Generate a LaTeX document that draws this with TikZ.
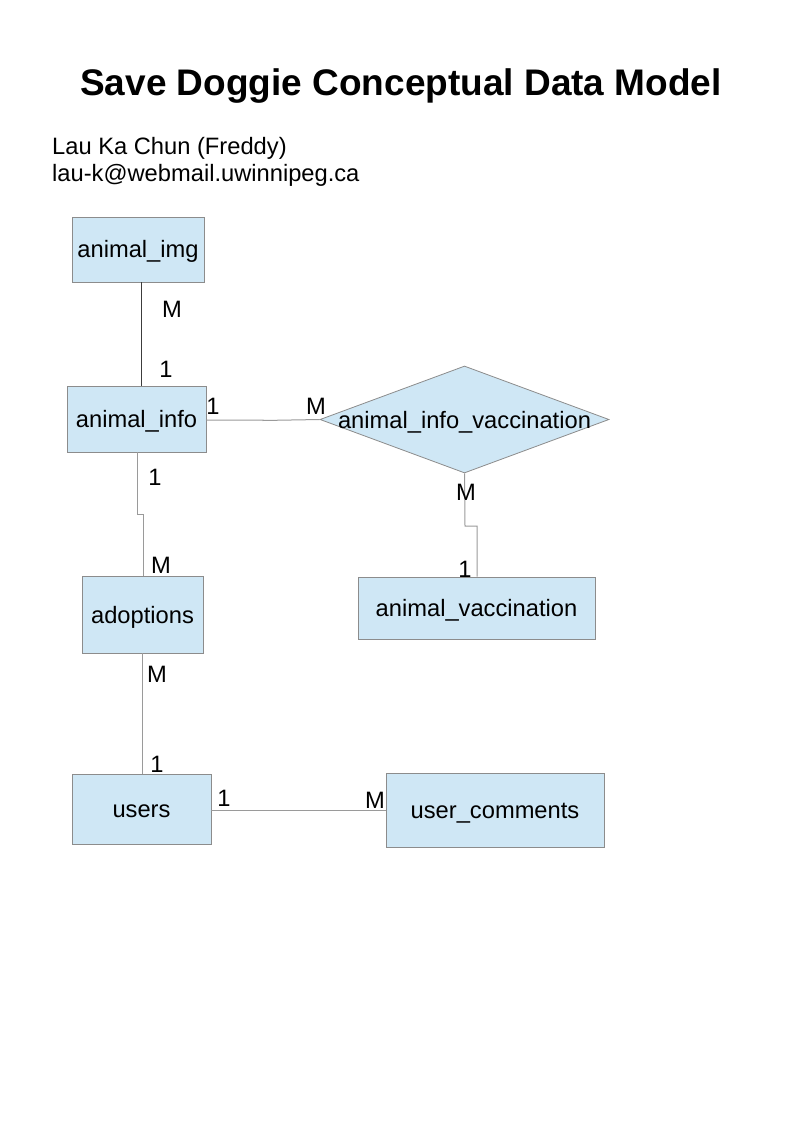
\documentclass[tikz,border=0pt]{standalone}
\usepackage{fontspec}
\setmainfont{Liberation Sans}
\usetikzlibrary{shapes.geometric}
\definecolor{entfill}{HTML}{CFE7F5}
\definecolor{entline}{HTML}{8C8C8C}
\definecolor{conline}{HTML}{9A9A9A}
\definecolor{darkline}{HTML}{3C3C3C}
\tikzset{
  ent/.style={draw=entline, fill=entfill, line width=0.8pt, inner sep=0pt,
    text height=17pt, text depth=0pt,
    font=\fontsize{23.7}{28}\selectfont},
  rel/.style={diamond, draw=entline, fill=entfill, line width=0.8pt, inner sep=0pt},
  reltext/.style={font=\fontsize{23.7}{28}\selectfont, inner sep=0pt, text height=17pt, text depth=0pt},
  conn/.style={draw=conline, line width=1pt},
  darkconn/.style={draw=darkline, line width=1pt},
  card/.style={font=\fontsize{23.7}{28}\selectfont, anchor=base, inner sep=0pt},
}
\begin{document}
\begin{tikzpicture}[x=1pt, y=-1pt]
\useasboundingbox (0,0) rectangle (794,1123);
\fill[white] (0,0) rectangle (794,1123);

% title and author
\node[anchor=base, inner sep=0pt, font=\fontsize{37}{44}\selectfont\bfseries] (title) at (401,96) {Save Doggie Conceptual Data Model};
\node[anchor=base west, inner sep=0pt, font=\fontsize{23.7}{28}\selectfont] (author) at (52,155) {Lau Ka Chun (Freddy)};
\node[anchor=base west, inner sep=0pt, font=\fontsize{23.7}{28}\selectfont] (email) at (52,182) {lau-k@webmail.uwinnipeg.ca};

% entities
\node[ent, minimum width=132pt, minimum height=65pt] (img) at (138,249.5) {animal\_img};
\node[ent, minimum width=139pt, minimum height=66pt] (info) at (136.5,419) {animal\_info};
\node[rel, minimum width=289pt, minimum height=107pt] (aiv) at (464.5,419.5) {};
\node[reltext] (aivt) at (464.5,420) {animal\_info\_vaccination};
\node[ent, minimum width=121pt, minimum height=77pt] (adopt) at (142.5,614.5) {adoptions};
\node[ent, minimum width=237pt, minimum height=62pt] (vacc) at (476.5,608) {animal\_vaccination};
\node[ent, minimum width=139pt, minimum height=70pt] (users) at (141.5,809) {users};
\node[ent, minimum width=218pt, minimum height=74pt] (comm) at (495,810) {user\_comments};

% connectors
\draw[darkconn] (img.south -| 141,0) -- (info.north -| 141,0);
\draw[conn] (info.east |- 0,420) -- (263,420) -- (263,420.5) -- (aiv.west);
\draw[conn] (info.south -| 137,0) -- (137,514) -- (143,514) -- (adopt.north -| 143,0);
\draw[conn] (aiv.south) -- (465,526) -- (477,526) -- (vacc.north -| 477,0);
\draw[conn] (adopt.south -| 142.5,0) -- (142.5,713) -- (142,713) -- (users.north -| 142,0);
\draw[conn] (users.east |- 0,810) -- (298,810) -- (298,810.5) -- (comm.west |- 0,810.5);

% cardinalities
\node[card] (c1) at (172,317) {M};
\node[card] (c2) at (166,377) {1};
\node[card] (c3) at (213,414) {1};
\node[card] (c4) at (316,414) {M};
\node[card] (c5) at (155,485) {1};
\node[card] (c6) at (161,573) {M};
\node[card] (c7) at (466,500) {M};
\node[card] (c8) at (465,577) {1};
\node[card] (c9) at (157,682) {M};
\node[card] (c10) at (157,772) {1};
\node[card] (c11) at (224,806) {1};
\node[card] (c12) at (375,808) {M};
\end{tikzpicture}
\end{document}
